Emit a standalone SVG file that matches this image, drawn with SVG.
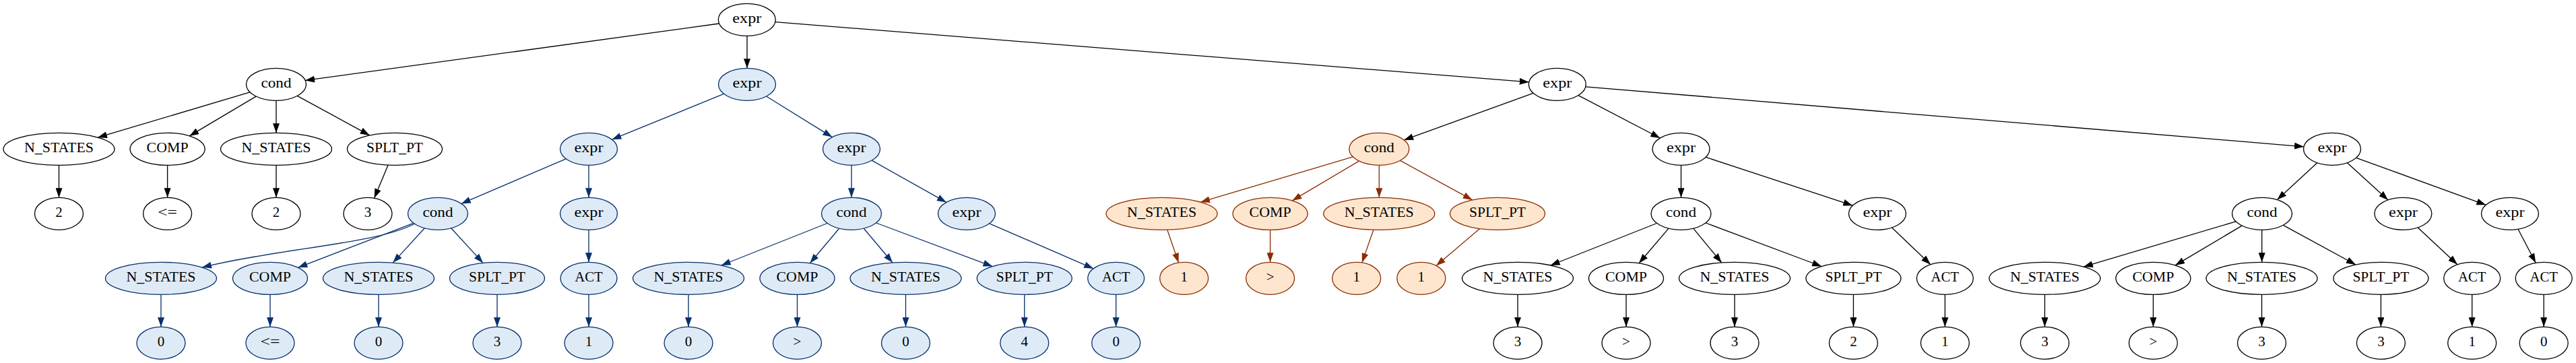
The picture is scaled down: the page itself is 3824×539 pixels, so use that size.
<svg xmlns="http://www.w3.org/2000/svg" width="3824" height="539" viewBox="0 0 3824 539">
<style>
.node ellipse{stroke-width:1.33}
.k ellipse{fill:#ffffff;stroke:#000000}
.b ellipse{fill:#deebf7;stroke:#08306b}
.o ellipse{fill:#fee6ce;stroke:#8c2d04}
.node text{font-family:"Liberation Serif","Times New Roman",serif;font-size:21px;fill:#000000;text-anchor:middle}
#edges path{fill:none;stroke-width:1.33}
#edges .k{stroke:#000000;marker-end:url(#ak)}
#edges .b{stroke:#08306b;marker-end:url(#ab)}
#edges .o{stroke:#8c2d04;marker-end:url(#ao)}
</style>
<defs>
<marker id="ak" viewBox="0 0 14 10" refX="14" refY="5" markerWidth="14" markerHeight="10" markerUnits="userSpaceOnUse" orient="auto"><path d="M0,0L14,5L0,10z" fill="#000000"/></marker>
<marker id="ab" viewBox="0 0 14 10" refX="14" refY="5" markerWidth="14" markerHeight="10" markerUnits="userSpaceOnUse" orient="auto"><path d="M0,0L14,5L0,10z" fill="#08306b"/></marker>
<marker id="ao" viewBox="0 0 14 10" refX="14" refY="5" markerWidth="14" markerHeight="10" markerUnits="userSpaceOnUse" orient="auto"><path d="M0,0L14,5L0,10z" fill="#8c2d04"/></marker>
</defs>
<rect width="3824" height="539" fill="#ffffff"/>
<g id="edges">
<path class="k" d="M1067.5,35L453.1,119.4"/>
<path class="k" d="M1109,53.3L1109,101.3"/>
<path class="k" d="M1150.9,32.7L2269.7,121.9"/>
<path class="k" d="M371,136.9L145,204.2"/>
<path class="k" d="M380.1,143.1L281.2,201.9"/>
<path class="k" d="M410,149.3L410,197.3"/>
<path class="k" d="M441.3,142.4L548.7,200.9"/>
<path class="k" d="M87.5,245.3L87.5,293.3"/>
<path class="k" d="M248.6,245.3L248.6,293.3"/>
<path class="k" d="M410,245.3L410,293.3"/>
<path class="k" d="M576.1,245.1L555.6,294.2"/>
<path class="b" d="M1074.6,139.4L908.4,207.2"/>
<path class="b" d="M1137.6,143L1235.4,203.6"/>
<path class="b" d="M840.1,235.8L684.8,302.4"/>
<path class="b" d="M874,245.3L874,293.3"/>
<path class="b" d="M616,332C560,362 420,368 300,397"/>
<path class="b" d="M613.8,331.3L442.4,397.3"/>
<path class="b" d="M630.3,338.8L583.3,390.1"/>
<path class="b" d="M669.7,338.8L717,390.4"/>
<path class="b" d="M874,341.3L874,389.3"/>
<path class="b" d="M239,437.3L239,485.3"/>
<path class="b" d="M401,437.3L401,485.3"/>
<path class="b" d="M562,437.3L562,485.3"/>
<path class="b" d="M738,437.3L738,485.3"/>
<path class="b" d="M874,437.3L874,485.3"/>
<path class="b" d="M1264,245.3L1264,293.3"/>
<path class="b" d="M1294.1,238.2L1404.9,300.4"/>
<path class="b" d="M1228.2,331.5L1070.7,394"/>
<path class="b" d="M1245.7,339.2L1202.4,390.7"/>
<path class="b" d="M1282.3,339.2L1325,390"/>
<path class="b" d="M1300.6,331L1473.3,395.6"/>
<path class="b" d="M1468.7,331.9L1623.2,398.8"/>
<path class="b" d="M1022,437.3L1022,485.3"/>
<path class="b" d="M1183.5,437.3L1183.5,485.3"/>
<path class="b" d="M1344.5,437.3L1344.5,485.3"/>
<path class="b" d="M1520.8,437.3L1520.8,485.3"/>
<path class="b" d="M1656.7,437.3L1656.7,485.3"/>
<path class="k" d="M2276,138.3L2084.2,207.9"/>
<path class="k" d="M2343,141.6L2464.3,205"/>
<path class="k" d="M2353.8,128.8L3420,217.8"/>
<path class="o" d="M2008.3,232.9L1782.1,300.2"/>
<path class="o" d="M2017.4,239.1L1918.3,297.9"/>
<path class="o" d="M2047.3,245.3L2047.3,293.3"/>
<path class="o" d="M2078.5,238.4L2185.7,296.9"/>
<path class="o" d="M1732.8,341.2L1749.6,389.9"/>
<path class="o" d="M1885.6,341.3L1885.6,389.3"/>
<path class="o" d="M2038.9,341.2L2021.9,389.9"/>
<path class="o" d="M2196.7,339.6L2132,394.4"/>
<path class="k" d="M2495.5,245.3L2495.5,293.3"/>
<path class="k" d="M2532.2,233.4L2750.2,305.2"/>
<path class="k" d="M2459.6,331.5L2301.7,394"/>
<path class="k" d="M2477,339.1L2433.1,390.8"/>
<path class="k" d="M2513.7,339.2L2555.7,390"/>
<path class="k" d="M2532,331L2704,395.5"/>
<path class="k" d="M2808.5,338L2865.8,392.7"/>
<path class="k" d="M2253,437.3L2253,485.3"/>
<path class="k" d="M2414,437.3L2414,485.3"/>
<path class="k" d="M2575,437.3L2575,485.3"/>
<path class="k" d="M2751.4,437.3L2751.4,485.3"/>
<path class="k" d="M2887.3,437.3L2887.3,485.3"/>
<path class="k" d="M3439.8,241.8L3380.5,296.6"/>
<path class="k" d="M3484.4,241.7L3545,296.9"/>
<path class="k" d="M3497.7,234.3L3690.3,304.3"/>
<path class="k" d="M3319.1,328.9L3092.9,396.2"/>
<path class="k" d="M3328.1,335.1L3229.1,393.9"/>
<path class="k" d="M3357.7,341.3L3357.7,389.3"/>
<path class="k" d="M3389.3,334.4L3497,393"/>
<path class="k" d="M3589.3,337.9L3647.9,392.8"/>
<path class="k" d="M3738,340.3L3764.2,390.3"/>
<path class="k" d="M3035.4,437.3L3035.4,485.3"/>
<path class="k" d="M3196.4,437.3L3196.4,485.3"/>
<path class="k" d="M3357.5,437.3L3357.5,485.3"/>
<path class="k" d="M3534.4,437.3L3534.4,485.3"/>
<path class="k" d="M3669.7,437.3L3669.7,485.3"/>
<path class="k" d="M3776.2,437.3L3776.2,485.3"/>
</g>
<g id="n0" class="node k"><ellipse cx="1108.8" cy="29.3" rx="42.5" ry="24"/><text x="1108.8" y="34.3" textLength="43" lengthAdjust="spacingAndGlyphs">expr</text></g>
<g id="n1" class="node k"><ellipse cx="410" cy="125.3" rx="44.5" ry="24"/><text x="410" y="130.3" textLength="45" lengthAdjust="spacingAndGlyphs">cond</text></g>
<g id="n2" class="node b"><ellipse cx="1109" cy="125.3" rx="42.5" ry="24"/><text x="1109" y="130.3" textLength="43" lengthAdjust="spacingAndGlyphs">expr</text></g>
<g id="n3" class="node k"><ellipse cx="2311.8" cy="125.3" rx="42.5" ry="24"/><text x="2311.8" y="130.3" textLength="43" lengthAdjust="spacingAndGlyphs">expr</text></g>
<g id="n4" class="node k"><ellipse cx="87.5" cy="221.3" rx="82.5" ry="24"/><text x="87.5" y="226.3" textLength="103" lengthAdjust="spacingAndGlyphs">N_STATES</text></g>
<g id="n5" class="node k"><ellipse cx="248.6" cy="221.3" rx="55.5" ry="24"/><text x="248.6" y="226.3" textLength="62" lengthAdjust="spacingAndGlyphs">COMP</text></g>
<g id="n6" class="node k"><ellipse cx="410" cy="221.3" rx="82.5" ry="24"/><text x="410" y="226.3" textLength="103" lengthAdjust="spacingAndGlyphs">N_STATES</text></g>
<g id="n7" class="node k"><ellipse cx="586" cy="221.3" rx="70.5" ry="24"/><text x="586" y="226.3" textLength="84" lengthAdjust="spacingAndGlyphs">SPLT_PT</text></g>
<g id="n8" class="node k"><ellipse cx="87.5" cy="317.3" rx="36" ry="24"/><text x="87.5" y="322.3">2</text></g>
<g id="n9" class="node k"><ellipse cx="248.6" cy="317.3" rx="36" ry="24"/><text x="248.6" y="322.3" textLength="29" lengthAdjust="spacingAndGlyphs">&lt;=</text></g>
<g id="n10" class="node k"><ellipse cx="410" cy="317.3" rx="36" ry="24"/><text x="410" y="322.3">2</text></g>
<g id="n11" class="node k"><ellipse cx="546" cy="317.3" rx="36" ry="24"/><text x="546" y="322.3">3</text></g>
<g id="n12" class="node b"><ellipse cx="874" cy="221.3" rx="42.5" ry="24"/><text x="874" y="226.3" textLength="43" lengthAdjust="spacingAndGlyphs">expr</text></g>
<g id="n13" class="node b"><ellipse cx="1264" cy="221.3" rx="42.5" ry="24"/><text x="1264" y="226.3" textLength="43" lengthAdjust="spacingAndGlyphs">expr</text></g>
<g id="n14" class="node b"><ellipse cx="650" cy="317.3" rx="44.5" ry="24"/><text x="650" y="322.3" textLength="45" lengthAdjust="spacingAndGlyphs">cond</text></g>
<g id="n15" class="node b"><ellipse cx="874" cy="317.3" rx="42.5" ry="24"/><text x="874" y="322.3" textLength="43" lengthAdjust="spacingAndGlyphs">expr</text></g>
<g id="n16" class="node b"><ellipse cx="239" cy="413.3" rx="82.5" ry="24"/><text x="239" y="418.3" textLength="103" lengthAdjust="spacingAndGlyphs">N_STATES</text></g>
<g id="n17" class="node b"><ellipse cx="401" cy="413.3" rx="55.5" ry="24"/><text x="401" y="418.3" textLength="62" lengthAdjust="spacingAndGlyphs">COMP</text></g>
<g id="n18" class="node b"><ellipse cx="562" cy="413.3" rx="82.5" ry="24"/><text x="562" y="418.3" textLength="103" lengthAdjust="spacingAndGlyphs">N_STATES</text></g>
<g id="n19" class="node b"><ellipse cx="738" cy="413.3" rx="70.5" ry="24"/><text x="738" y="418.3" textLength="84" lengthAdjust="spacingAndGlyphs">SPLT_PT</text></g>
<g id="n20" class="node b"><ellipse cx="874" cy="413.3" rx="42" ry="24"/><text x="874" y="418.3" textLength="41.5" lengthAdjust="spacingAndGlyphs">ACT</text></g>
<g id="n21" class="node b"><ellipse cx="239" cy="509.3" rx="36" ry="24"/><text x="239" y="514.3">0</text></g>
<g id="n22" class="node b"><ellipse cx="401" cy="509.3" rx="36" ry="24"/><text x="401" y="514.3" textLength="29" lengthAdjust="spacingAndGlyphs">&lt;=</text></g>
<g id="n23" class="node b"><ellipse cx="562" cy="509.3" rx="36" ry="24"/><text x="562" y="514.3">0</text></g>
<g id="n24" class="node b"><ellipse cx="738" cy="509.3" rx="36" ry="24"/><text x="738" y="514.3">3</text></g>
<g id="n25" class="node b"><ellipse cx="874" cy="509.3" rx="36" ry="24"/><text x="874" y="514.3">1</text></g>
<g id="n26" class="node b"><ellipse cx="1264" cy="317.3" rx="44.5" ry="24"/><text x="1264" y="322.3" textLength="45" lengthAdjust="spacingAndGlyphs">cond</text></g>
<g id="n27" class="node b"><ellipse cx="1435" cy="317.3" rx="42.5" ry="24"/><text x="1435" y="322.3" textLength="43" lengthAdjust="spacingAndGlyphs">expr</text></g>
<g id="n28" class="node b"><ellipse cx="1022" cy="413.3" rx="82.5" ry="24"/><text x="1022" y="418.3" textLength="103" lengthAdjust="spacingAndGlyphs">N_STATES</text></g>
<g id="n29" class="node b"><ellipse cx="1183.5" cy="413.3" rx="55.5" ry="24"/><text x="1183.5" y="418.3" textLength="62" lengthAdjust="spacingAndGlyphs">COMP</text></g>
<g id="n30" class="node b"><ellipse cx="1344.5" cy="413.3" rx="82.5" ry="24"/><text x="1344.5" y="418.3" textLength="103" lengthAdjust="spacingAndGlyphs">N_STATES</text></g>
<g id="n31" class="node b"><ellipse cx="1520.8" cy="413.3" rx="70.5" ry="24"/><text x="1520.8" y="418.3" textLength="84" lengthAdjust="spacingAndGlyphs">SPLT_PT</text></g>
<g id="n32" class="node b"><ellipse cx="1656.7" cy="413.3" rx="42" ry="24"/><text x="1656.7" y="418.3" textLength="41.5" lengthAdjust="spacingAndGlyphs">ACT</text></g>
<g id="n33" class="node b"><ellipse cx="1022" cy="509.3" rx="36" ry="24"/><text x="1022" y="514.3">0</text></g>
<g id="n34" class="node b"><ellipse cx="1183.5" cy="509.3" rx="36" ry="24"/><text x="1183.5" y="514.3">&gt;</text></g>
<g id="n35" class="node b"><ellipse cx="1344.5" cy="509.3" rx="36" ry="24"/><text x="1344.5" y="514.3">0</text></g>
<g id="n36" class="node b"><ellipse cx="1520.8" cy="509.3" rx="36" ry="24"/><text x="1520.8" y="514.3">4</text></g>
<g id="n37" class="node b"><ellipse cx="1656.7" cy="509.3" rx="36" ry="24"/><text x="1656.7" y="514.3">0</text></g>
<g id="n38" class="node o"><ellipse cx="2047.3" cy="221.3" rx="44.5" ry="24"/><text x="2047.3" y="226.3" textLength="45" lengthAdjust="spacingAndGlyphs">cond</text></g>
<g id="n39" class="node k"><ellipse cx="2495.5" cy="221.3" rx="42.5" ry="24"/><text x="2495.5" y="226.3" textLength="43" lengthAdjust="spacingAndGlyphs">expr</text></g>
<g id="n40" class="node k"><ellipse cx="3462" cy="221.3" rx="42.5" ry="24"/><text x="3462" y="226.3" textLength="43" lengthAdjust="spacingAndGlyphs">expr</text></g>
<g id="n41" class="node o"><ellipse cx="1724.6" cy="317.3" rx="82.5" ry="24"/><text x="1724.6" y="322.3" textLength="103" lengthAdjust="spacingAndGlyphs">N_STATES</text></g>
<g id="n42" class="node o"><ellipse cx="1885.6" cy="317.3" rx="55.5" ry="24"/><text x="1885.6" y="322.3" textLength="62" lengthAdjust="spacingAndGlyphs">COMP</text></g>
<g id="n43" class="node o"><ellipse cx="2047.3" cy="317.3" rx="82.5" ry="24"/><text x="2047.3" y="322.3" textLength="103" lengthAdjust="spacingAndGlyphs">N_STATES</text></g>
<g id="n44" class="node o"><ellipse cx="2223" cy="317.3" rx="70.5" ry="24"/><text x="2223" y="322.3" textLength="84" lengthAdjust="spacingAndGlyphs">SPLT_PT</text></g>
<g id="n45" class="node o"><ellipse cx="1757.7" cy="413.3" rx="36" ry="24"/><text x="1757.7" y="418.3">1</text></g>
<g id="n46" class="node o"><ellipse cx="1885.6" cy="413.3" rx="36" ry="24"/><text x="1885.6" y="418.3">&gt;</text></g>
<g id="n47" class="node o"><ellipse cx="2013.7" cy="413.3" rx="36" ry="24"/><text x="2013.7" y="418.3">1</text></g>
<g id="n48" class="node o"><ellipse cx="2109.8" cy="413.3" rx="36" ry="24"/><text x="2109.8" y="418.3">1</text></g>
<g id="n49" class="node k"><ellipse cx="2495.5" cy="317.3" rx="44.5" ry="24"/><text x="2495.5" y="322.3" textLength="45" lengthAdjust="spacingAndGlyphs">cond</text></g>
<g id="n50" class="node k"><ellipse cx="2786.9" cy="317.3" rx="42.5" ry="24"/><text x="2786.9" y="322.3" textLength="43" lengthAdjust="spacingAndGlyphs">expr</text></g>
<g id="n51" class="node k"><ellipse cx="2253" cy="413.3" rx="82.5" ry="24"/><text x="2253" y="418.3" textLength="103" lengthAdjust="spacingAndGlyphs">N_STATES</text></g>
<g id="n52" class="node k"><ellipse cx="2414" cy="413.3" rx="55.5" ry="24"/><text x="2414" y="418.3" textLength="62" lengthAdjust="spacingAndGlyphs">COMP</text></g>
<g id="n53" class="node k"><ellipse cx="2575" cy="413.3" rx="82.5" ry="24"/><text x="2575" y="418.3" textLength="103" lengthAdjust="spacingAndGlyphs">N_STATES</text></g>
<g id="n54" class="node k"><ellipse cx="2751.4" cy="413.3" rx="70.5" ry="24"/><text x="2751.4" y="418.3" textLength="84" lengthAdjust="spacingAndGlyphs">SPLT_PT</text></g>
<g id="n55" class="node k"><ellipse cx="2887.3" cy="413.3" rx="42" ry="24"/><text x="2887.3" y="418.3" textLength="41.5" lengthAdjust="spacingAndGlyphs">ACT</text></g>
<g id="n56" class="node k"><ellipse cx="2253" cy="509.3" rx="36" ry="24"/><text x="2253" y="514.3">3</text></g>
<g id="n57" class="node k"><ellipse cx="2414" cy="509.3" rx="36" ry="24"/><text x="2414" y="514.3">&gt;</text></g>
<g id="n58" class="node k"><ellipse cx="2575" cy="509.3" rx="36" ry="24"/><text x="2575" y="514.3">3</text></g>
<g id="n59" class="node k"><ellipse cx="2751.4" cy="509.3" rx="36" ry="24"/><text x="2751.4" y="514.3">2</text></g>
<g id="n60" class="node k"><ellipse cx="2887.3" cy="509.3" rx="36" ry="24"/><text x="2887.3" y="514.3">1</text></g>
<g id="n61" class="node k"><ellipse cx="3358" cy="317.3" rx="44.5" ry="24"/><text x="3358" y="322.3" textLength="45" lengthAdjust="spacingAndGlyphs">cond</text></g>
<g id="n62" class="node k"><ellipse cx="3567.4" cy="317.3" rx="42.5" ry="24"/><text x="3567.4" y="322.3" textLength="43" lengthAdjust="spacingAndGlyphs">expr</text></g>
<g id="n63" class="node k"><ellipse cx="3726" cy="317.3" rx="42.5" ry="24"/><text x="3726" y="322.3" textLength="43" lengthAdjust="spacingAndGlyphs">expr</text></g>
<g id="n64" class="node k"><ellipse cx="3035.4" cy="413.3" rx="82.5" ry="24"/><text x="3035.4" y="418.3" textLength="103" lengthAdjust="spacingAndGlyphs">N_STATES</text></g>
<g id="n65" class="node k"><ellipse cx="3196.4" cy="413.3" rx="55.5" ry="24"/><text x="3196.4" y="418.3" textLength="62" lengthAdjust="spacingAndGlyphs">COMP</text></g>
<g id="n66" class="node k"><ellipse cx="3357.5" cy="413.3" rx="82.5" ry="24"/><text x="3357.5" y="418.3" textLength="103" lengthAdjust="spacingAndGlyphs">N_STATES</text></g>
<g id="n67" class="node k"><ellipse cx="3534.4" cy="413.3" rx="70.5" ry="24"/><text x="3534.4" y="418.3" textLength="84" lengthAdjust="spacingAndGlyphs">SPLT_PT</text></g>
<g id="n68" class="node k"><ellipse cx="3669.7" cy="413.3" rx="42" ry="24"/><text x="3669.7" y="418.3" textLength="41.5" lengthAdjust="spacingAndGlyphs">ACT</text></g>
<g id="n69" class="node k"><ellipse cx="3776.2" cy="413.3" rx="42" ry="24"/><text x="3776.2" y="418.3" textLength="41.5" lengthAdjust="spacingAndGlyphs">ACT</text></g>
<g id="n70" class="node k"><ellipse cx="3035.4" cy="509.3" rx="36" ry="24"/><text x="3035.4" y="514.3">3</text></g>
<g id="n71" class="node k"><ellipse cx="3196.4" cy="509.3" rx="36" ry="24"/><text x="3196.4" y="514.3">&gt;</text></g>
<g id="n72" class="node k"><ellipse cx="3357.5" cy="509.3" rx="36" ry="24"/><text x="3357.5" y="514.3">3</text></g>
<g id="n73" class="node k"><ellipse cx="3534.4" cy="509.3" rx="36" ry="24"/><text x="3534.4" y="514.3">3</text></g>
<g id="n74" class="node k"><ellipse cx="3669.7" cy="509.3" rx="36" ry="24"/><text x="3669.7" y="514.3">1</text></g>
<g id="n75" class="node k"><ellipse cx="3776.2" cy="509.3" rx="36" ry="24"/><text x="3776.2" y="514.3">0</text></g>
</svg>
